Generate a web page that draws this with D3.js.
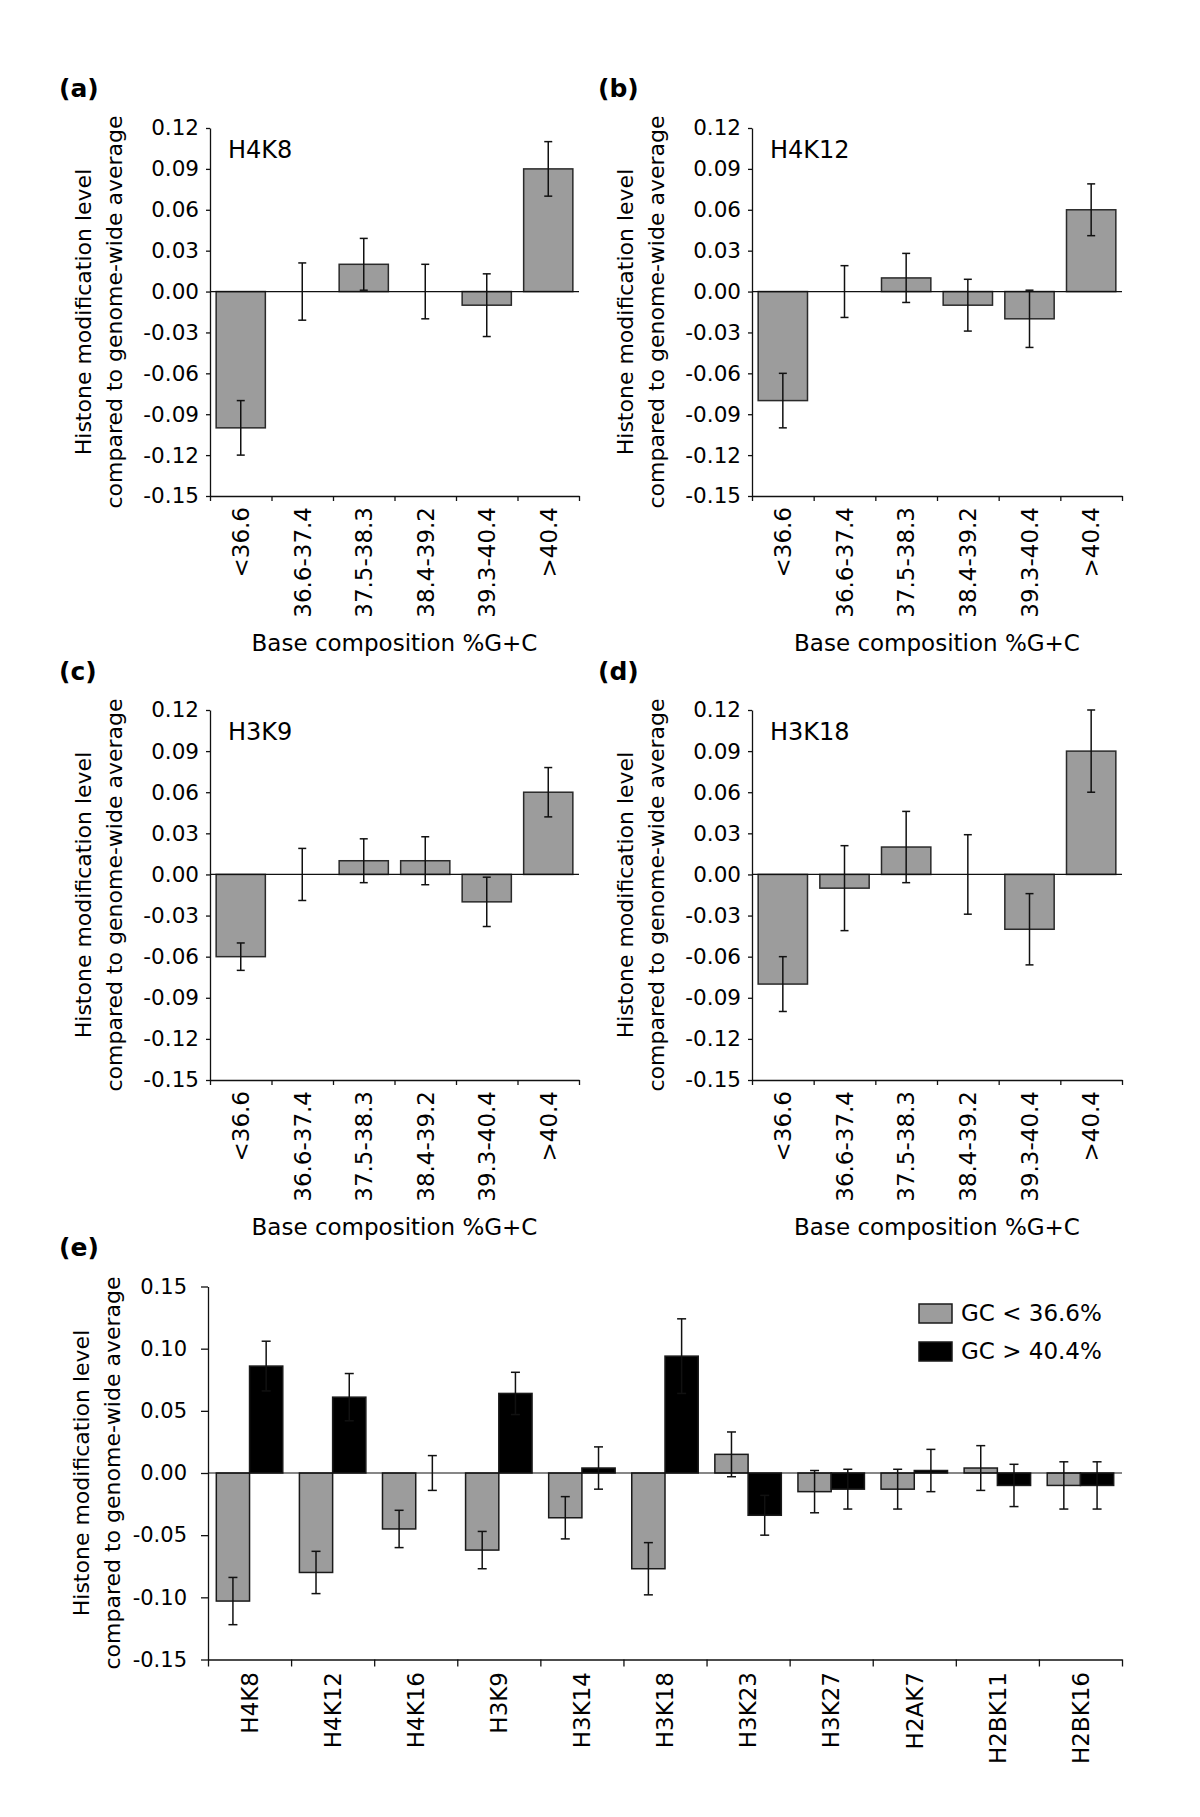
<!DOCTYPE html>
<html>
<head>
<meta charset="utf-8">
<script src="https://cdn.jsdelivr.net/npm/d3@7"></script>
<style>
  body { margin: 0; background: #fff; }
  text { font-family: "DejaVu Sans", Arial, sans-serif; fill: #000; }
</style>
</head>
<body>
<svg id="chart"></svg>
<script>
// Data
const gcBins = ["<36.6", "36.6-37.4", "37.5-38.3", "38.4-39.2", "39.3-40.4", ">40.4"];
const smallTicks = [-0.15, -0.12, -0.09, -0.06, -0.03, 0, 0.03, 0.06, 0.09, 0.12];

const h4k8Values = [-0.100, 0, 0.020, 0, -0.010, 0.090];
const h4k8Errors = [0.020, 0.021, 0.019, 0.020, 0.023, 0.020];
const h4k12Values = [-0.080, 0, 0.010, -0.010, -0.020, 0.060];
const h4k12Errors = [0.020, 0.019, 0.018, 0.019, 0.021, 0.019];
const h3k9Values = [-0.060, 0, 0.010, 0.010, -0.020, 0.060];
const h3k9Errors = [0.010, 0.019, 0.016, 0.0175, 0.018, 0.018];
const h3k18Values = [-0.080, -0.010, 0.020, 0, -0.040, 0.090];
const h3k18Errors = [0.020, 0.031, 0.026, 0.029, 0.026, 0.030];

const modifications = ["H4K8", "H4K12", "H4K16", "H3K9", "H3K14", "H3K18", "H3K23", "H3K27", "H2AK7", "H2BK11", "H2BK16"];
const lowGcValues = [-0.103, -0.080, -0.045, -0.062, -0.036, -0.077, 0.015, -0.015, -0.013, 0.004, -0.010];
const lowGcErrors = [0.019, 0.017, 0.015, 0.015, 0.017, 0.021, 0.018, 0.017, 0.016, 0.018, 0.019];
const highGcValues = [0.086, 0.061, 0, 0.064, 0.004, 0.094, -0.034, -0.013, 0.002, -0.010, -0.010];
const highGcErrors = [0.020, 0.019, 0.014, 0.017, 0.017, 0.030, 0.016, 0.016, 0.017, 0.017, 0.019];
const bigTicks = [-0.15, -0.10, -0.05, 0, 0.05, 0.10, 0.15];
const legendLabels = ["GC < 36.6%", "GC > 40.4%"];

// Setup
const width = 1200;
const height = 1817;
const grey = "#9c9c9c";
const ink = "#111";

const svg = d3.select("#chart")
    .attr("width", width)
    .attr("height", height);

svg.append("rect").attr("width", width).attr("height", height).attr("fill", "#fff");

function styleAxis(sel) {
    sel.selectAll("path, line").attr("stroke", ink).attr("stroke-width", 1.3);
    sel.attr("font-family", null).attr("font-size", null);
}

function yTitle(g, cx, cy, size) {
    g.append("text")
        .attr("transform", `translate(${cx - 119},${cy}) rotate(-90)`)
        .attr("text-anchor", "middle")
        .attr("font-size", size)
        .text("Histone modification level");
    g.append("text")
        .attr("transform", `translate(${cx - 88},${cy}) rotate(-90)`)
        .attr("text-anchor", "middle")
        .attr("font-size", size)
        .text("compared to genome-wide average");
}

// Small panels (a)-(d)
const panels = [
    { letter: "(a)", name: "H4K8", values: h4k8Values, errors: h4k8Errors, left: 210, right: 579, top: 128, bottom: 496, lx: 59, ly: 97 },
    { letter: "(b)", name: "H4K12", values: h4k12Values, errors: h4k12Errors, left: 752, right: 1122, top: 128, bottom: 496, lx: 598, ly: 97 },
    { letter: "(c)", name: "H3K9", values: h3k9Values, errors: h3k9Errors, left: 210, right: 579, top: 710, bottom: 1080, lx: 59, ly: 680 },
    { letter: "(d)", name: "H3K18", values: h3k18Values, errors: h3k18Errors, left: 752, right: 1122, top: 710, bottom: 1080, lx: 598, ly: 680 }
];

panels.forEach(p => {
    const g = svg.append("g");

    const xScale = d3.scaleBand()
        .domain(gcBins)
        .range([p.left, p.right])
        .paddingInner(0.2)
        .paddingOuter(0.1);
    const xEdges = d3.scaleLinear().domain([0, gcBins.length]).range([p.left, p.right]);
    const yScale = d3.scaleLinear().domain([-0.15, 0.12]).range([p.bottom, p.top]);

    const data = gcBins.map((b, i) => ({ bin: b, v: p.values[i], e: p.errors[i] }));

    // Bars
    g.selectAll(".bar")
        .data(data.filter(d => d.v !== 0))
        .enter()
        .append("rect")
        .attr("x", d => xScale(d.bin))
        .attr("y", d => yScale(Math.max(0, d.v)))
        .attr("width", xScale.bandwidth())
        .attr("height", d => Math.abs(yScale(d.v) - yScale(0)))
        .attr("fill", grey)
        .attr("stroke", "#2a2a2a")
        .attr("stroke-width", 1.5);

    g.append("line")
        .attr("x1", p.left).attr("x2", p.right)
        .attr("y1", yScale(0)).attr("y2", yScale(0))
        .attr("stroke", ink).attr("stroke-width", 1.2);

    // Error bars
    const err = g.selectAll(".err").data(data).enter().append("g")
        .attr("transform", d => `translate(${xScale(d.bin) + xScale.bandwidth() / 2},0)`);
    err.append("line")
        .attr("y1", d => yScale(d.v + d.e)).attr("y2", d => yScale(d.v - d.e))
        .attr("stroke", ink).attr("stroke-width", 1.5);
    [1, -1].forEach(s => {
        err.append("line")
            .attr("x1", -4).attr("x2", 4)
            .attr("y1", d => yScale(d.v + s * d.e)).attr("y2", d => yScale(d.v + s * d.e))
            .attr("stroke", ink).attr("stroke-width", 1.5);
    });

    // Axes
    g.append("g")
        .attr("transform", `translate(${p.left},0)`)
        .call(d3.axisLeft(yScale).tickValues(smallTicks).tickFormat(d => d.toFixed(2))
            .tickSize(4).tickSizeOuter(0).tickPadding(7))
        .call(styleAxis)
        .selectAll("text").attr("font-size", 21.5);

    g.append("g")
        .attr("transform", `translate(0,${p.bottom})`)
        .call(d3.axisBottom(xEdges).tickValues(d3.range(gcBins.length + 1)).tickFormat("")
            .tickSize(5).tickSizeOuter(0))
        .call(styleAxis);

    g.append("g")
        .attr("transform", `translate(0,${p.bottom})`)
        .call(d3.axisBottom(xScale).tickSize(0))
        .call(a => a.select(".domain").remove())
        .call(styleAxis)
        .selectAll("text")
        .attr("transform", "rotate(-90)")
        .attr("text-anchor", "end")
        .attr("x", -11).attr("y", 0).attr("dy", "0.36em")
        .attr("font-size", 23);

    g.append("text")
        .attr("x", (p.left + p.right) / 2).attr("y", p.bottom + 155)
        .attr("text-anchor", "middle").attr("font-size", 23)
        .text("Base composition %G+C");

    yTitle(g, p.left, (p.top + p.bottom) / 2, 22);

    g.append("text").attr("x", p.left + 18).attr("y", p.top + 30)
        .attr("font-size", 24).text(p.name);

    g.append("text").attr("x", p.lx).attr("y", p.ly)
        .attr("font-size", 25).attr("font-weight", "bold").text(p.letter);
});

// Panel (e)
const eLeft = 208, eRight = 1122, eTop = 1286.5, eBottom = 1659.5;
const ge = svg.append("g");

const xMod = d3.scaleBand()
    .domain(modifications)
    .range([eLeft, eRight])
    .paddingInner(0.2)
    .paddingOuter(0.1);
const xSub = d3.scaleBand().domain(legendLabels).range([0, xMod.bandwidth()]);
const xModEdges = d3.scaleLinear().domain([0, modifications.length]).range([eLeft, eRight]);
const yBig = d3.scaleLinear().domain([-0.15, 0.15]).range([eBottom, eTop]);
const seriesFill = d3.scaleOrdinal().domain(legendLabels).range([grey, "#000"]);

const eData = [];
modifications.forEach((m, i) => {
    eData.push({ mod: m, key: legendLabels[0], v: lowGcValues[i], e: lowGcErrors[i] });
    eData.push({ mod: m, key: legendLabels[1], v: highGcValues[i], e: highGcErrors[i] });
});

ge.selectAll(".bar")
    .data(eData.filter(d => d.v !== 0))
    .enter()
    .append("rect")
    .attr("x", d => xMod(d.mod) + xSub(d.key))
    .attr("y", d => yBig(Math.max(0, d.v)))
    .attr("width", xSub.bandwidth())
    .attr("height", d => Math.abs(yBig(d.v) - yBig(0)))
    .attr("fill", d => seriesFill(d.key))
    .attr("stroke", "#1a1a1a")
    .attr("stroke-width", 1.5);

ge.append("line")
    .attr("x1", eLeft).attr("x2", eRight)
    .attr("y1", yBig(0)).attr("y2", yBig(0))
    .attr("stroke", ink).attr("stroke-width", 1.2);

const eErr = ge.selectAll(".err").data(eData).enter().append("g")
    .attr("transform", d => `translate(${xMod(d.mod) + xSub(d.key) + xSub.bandwidth() / 2},0)`);
eErr.append("line")
    .attr("y1", d => yBig(d.v + d.e)).attr("y2", d => yBig(d.v - d.e))
    .attr("stroke", ink).attr("stroke-width", 1.5);
[1, -1].forEach(s => {
    eErr.append("line")
        .attr("x1", -4.5).attr("x2", 4.5)
        .attr("y1", d => yBig(d.v + s * d.e)).attr("y2", d => yBig(d.v + s * d.e))
        .attr("stroke", ink).attr("stroke-width", 1.5);
});

ge.append("g")
    .attr("transform", `translate(${eLeft},0)`)
    .call(d3.axisLeft(yBig).tickValues(bigTicks).tickFormat(d => d.toFixed(2))
        .tickSize(7).tickSizeOuter(0).tickPadding(14))
    .call(styleAxis)
    .selectAll("text").attr("font-size", 21);

ge.append("g")
    .attr("transform", `translate(0,${eBottom})`)
    .call(d3.axisBottom(xModEdges).tickValues(d3.range(modifications.length + 1)).tickFormat("")
        .tickSize(7).tickSizeOuter(0))
    .call(styleAxis);

ge.append("g")
    .attr("transform", `translate(0,${eBottom})`)
    .call(d3.axisBottom(xMod).tickSize(0))
    .call(a => a.select(".domain").remove())
    .call(styleAxis)
    .selectAll("text")
    .attr("transform", "rotate(-90)")
    .attr("text-anchor", "end")
    .attr("x", -12.5).attr("y", 0).attr("dy", "0.36em")
    .attr("font-size", 23);

yTitle(ge, eLeft, (eTop + eBottom) / 2, 22);

ge.append("text").attr("x", 59).attr("y", 1256)
    .attr("font-size", 25).attr("font-weight", "bold").text("(e)");

// Legend
const legend = ge.selectAll(".legend").data(legendLabels).enter().append("g")
    .attr("transform", (d, i) => `translate(919,${1304 + i * 38})`);
legend.append("rect")
    .attr("width", 33).attr("height", 19)
    .attr("fill", d => seriesFill(d))
    .attr("stroke", "#1a1a1a").attr("stroke-width", 1.5);
legend.append("text")
    .attr("x", 42).attr("y", 17)
    .attr("font-size", 23)
    .text(d => d);
</script>
</body>
</html>
